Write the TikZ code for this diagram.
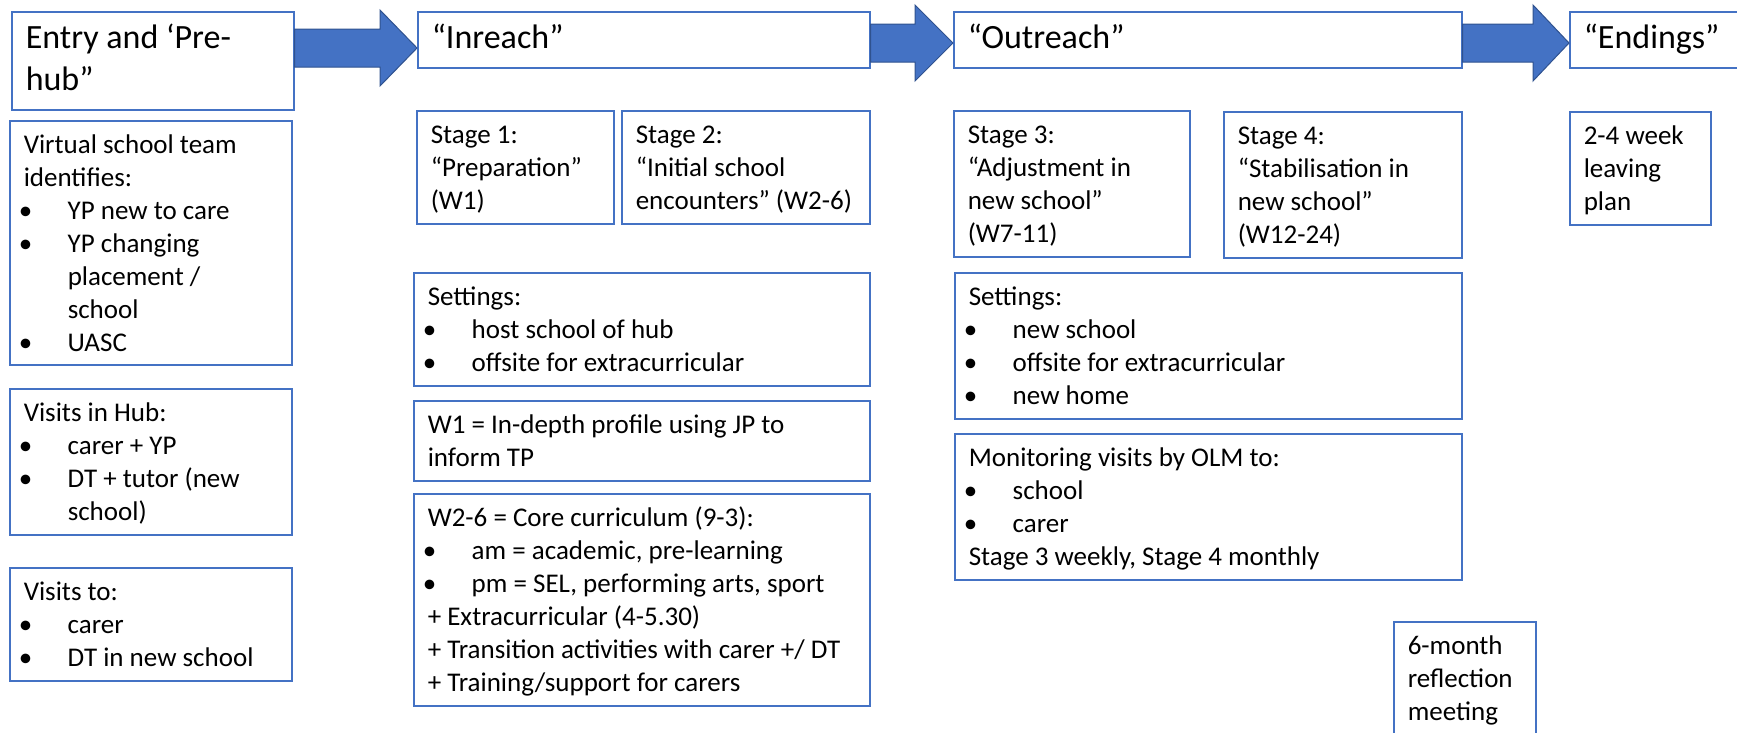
\documentclass[tikz,border=0pt]{standalone}
\usepackage{fontspec}
\setmainfont{Carlito}
\usetikzlibrary{calc}

\definecolor{boxblue}{RGB}{68,114,196}
\definecolor{arrowedge}{RGB}{47,82,143}

\newcommand{\bodysize}{\fontsize{27}{33}\selectfont}
\newcommand{\headsize}{\fontsize{34}{41.5}\selectfont}
% text of a box: inner width, inner height, lines
\newcommand{\boxtext}[3]{\parbox[t][#2pt][t]{#1pt}{\raggedright\strut#3}}
\newcommand{\bul}{\makebox[44pt][l]{\hspace*{-5pt}•}}
\newcommand{\ind}{\hspace*{44pt}}
% block arrow: from node, to node, centre y, head length
\newcommand{\flowarrow}[4]{%
  \filldraw[bigarrow] let \p1=(#1.east), \p2=(#2.west), \p3=(0,#3) in
    (\x1,\y3+19pt) -- (\x2-#4pt,\y3+19pt) -- (\x2-#4pt,\y3+38pt) -- (\x2,\y3)
    -- (\x2-#4pt,\y3-38pt) -- (\x2-#4pt,\y3-19pt) -- (\x1,\y3-19pt) -- cycle;}

\begin{document}
\begin{tikzpicture}[x=1pt,y=-1pt]

\tikzstyle{card}=[rectangle,draw=boxblue,line width=1.5pt,fill=white,anchor=north west,inner xsep=14pt,inner ysep=10pt,font=\bodysize]
\tikzstyle{headcard}=[card,inner ysep=8pt,font=\headsize]
\tikzstyle{bigarrow}=[fill=boxblue,draw=arrowedge,line width=1pt,line join=miter]

\useasboundingbox (0,0) rectangle (1737,732);
\clip (0,0) rectangle (1737,732);

% phase headings
\node[headcard] (entry) at (11,11) {\boxtext{254}{82}{Entry and ‘Pre-\\hub”}};
\node[headcard] (inreach) at (417,11) {\boxtext{424}{40}{“Inreach”}};
\node[headcard] (outreach) at (953,11) {\boxtext{480}{40}{“Outreach”}};
\node[headcard] (endings) at (1569,11) {\boxtext{163}{40}{“Endings”}};

% entry column
\node[card] (virtual) at (9,120) {\boxtext{254}{224}{Virtual school team\\identifies:\\\bul YP new to care\\\bul YP changing\\\ind placement /\\\ind school\\\bul UASC}};
\node[card] (hub) at (9,388) {\boxtext{254}{126}{Visits in Hub:\\\bul carer + YP\\\bul DT + tutor (new\\\ind school)}};
\node[card] (visitsto) at (9,567) {\boxtext{254}{93}{Visits to:\\\bul carer\\\bul DT in new school}};

% inreach column
\node[card] (stage1) at (416,110) {\boxtext{169}{93}{Stage 1:\\“Preparation”\\(W1)}};
\node[card] (stage2) at (621,110) {\boxtext{220}{93}{Stage 2:\\“Initial school\\encounters” (W2-6)}};
\node[card] (setin) at (413,272) {\boxtext{428}{93}{Settings:\\\bul host school of hub\\\bul offsite for extracurricular}};
\node[card] (wone) at (413,400) {\boxtext{428}{60}{W1 = In-depth profile using JP to\\inform TP}};
\node[card] (wtwo) at (413,493) {\boxtext{428}{192}{W2-6 = Core curriculum (9-3):\\\bul am = academic, pre-learning\\\bul pm = SEL, performing arts, sport\\+ Extracurricular (4-5.30)\\+ Transition activities with carer +/ DT\\+ Training/support for carers}};

% outreach column
\node[card] (stage3) at (953,110) {\boxtext{208}{126}{Stage 3:\\“Adjustment in\\new school”\\(W7-11)}};
\node[card] (stage4) at (1223,111) {\boxtext{210}{126}{Stage 4:\\“Stabilisation in\\new school”\\(W12-24)}};
\node[card] (setout) at (954,272) {\boxtext{479}{126}{Settings:\\\bul new school\\\bul offsite for extracurricular\\\bul new home}};
\node[card] (monitor) at (954,433) {\boxtext{479}{126}{Monitoring visits by OLM to:\\\bul school\\\bul carer\\Stage 3 weekly, Stage 4 monthly}};
\node[card] (sixmonth) at (1393,621) {\boxtext{114}{100}{6-month\\reflection\\meeting}};

% endings column
\node[card] (leaving) at (1569,111) {\boxtext{113}{93}{2-4 week\\leaving\\plan}};

% arrows between phases
\flowarrow{entry}{inreach}{48}{37}
\flowarrow{inreach}{outreach}{43}{38}
\flowarrow{outreach}{endings}{43}{36}
\end{tikzpicture}
\end{document}
